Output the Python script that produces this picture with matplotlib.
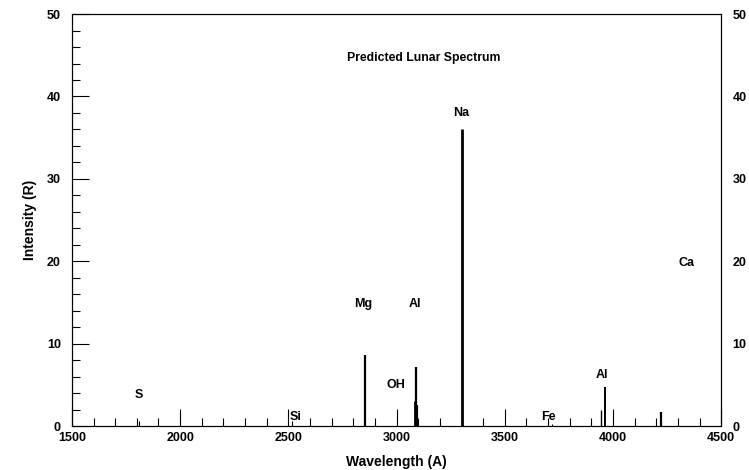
import numpy as np
import matplotlib
matplotlib.use('Agg')
import matplotlib.pyplot as plt

plt.rcParams['font.family'] = ['Liberation Sans', 'DejaVu Sans']
plt.rcParams['font.weight'] = 'bold'

# Lineas espectrales: longitud de onda [A], intensidad [R], grosor
wl = [1810, 2516, 2852, 3086, 3090, 3094, 3302, 3720, 3944, 3962, 4220]
inten = [0.6, 0.6, 8.6, 3.0, 7.2, 2.6, 36.0, 0.3, 2.0, 4.7, 1.7]
grosor = [0.8, 0.8, 1.6, 2.0, 1.6, 1.6, 2.0, 0.8, 1.0, 1.4, 1.6]

# Etiquetas de elementos
etiquetas = ['S', 'Si', 'Mg', 'Al', 'OH', 'Na', 'Fe', 'Al', 'Ca']
etq_x = [1810, 2535, 2845, 3086, 2998, 3298, 3700, 3950, 4339]
etq_y = [3.8, 1.1, 14.8, 14.8, 5.0, 38.0, 1.1, 6.2, 19.8]

fig = plt.figure(figsize=(7.49, 4.70), dpi=100)
ax = fig.add_axes([0.096, 0.0936, 0.867, 0.8764])

ax.vlines(wl, 0, inten, colors='black', linewidths=grosor)

for t, x, y in zip(etiquetas, etq_x, etq_y):
    ax.text(x, y, t, ha='center', va='center', fontsize=9, fontweight='bold')

ax.text(3123, 44.7, 'Predicted Lunar Spectrum', ha='center', va='center',
        fontsize=8.8, fontweight='bold')

ax.set_xlim(1500, 4500)
ax.set_ylim(0, 50)
ax.set_xticks(np.arange(1500, 4501, 500))
ax.set_xticks(np.arange(1500, 4501, 100), minor=True)
ax.set_yticks(np.arange(0, 51, 10))
ax.set_yticks(np.arange(0, 51, 2), minor=True)
ax.tick_params(axis='x', which='major', direction='in', length=12, width=0.8,
               labelsize=9, pad=4)
ax.tick_params(axis='x', which='minor', direction='in', length=6, width=0.8)
ax.tick_params(axis='y', which='major', direction='in', length=12, width=0.8,
               labelsize=9, pad=8)
ax.tick_params(axis='y', which='minor', direction='in', length=6, width=0.8)
for lab in ax.get_xticklabels() + ax.get_yticklabels():
    lab.set_fontweight('bold')

ax2 = ax.twinx()
ax2.set_ylim(0, 50)
ax2.set_yticks(np.arange(0, 51, 10))
ax2.tick_params(axis='y', length=0, labelsize=9, pad=8)
for lab in ax2.get_yticklabels():
    lab.set_fontweight('bold')

for a in (ax, ax2):
    for s in a.spines.values():
        s.set_linewidth(0.8)

ax.set_xlabel('Wavelength (A)', fontsize=10, fontweight='bold', labelpad=8)
ax.set_ylabel('Intensity (R)', fontsize=10, fontweight='bold', labelpad=7)

fig.savefig('out.png', dpi=100)
